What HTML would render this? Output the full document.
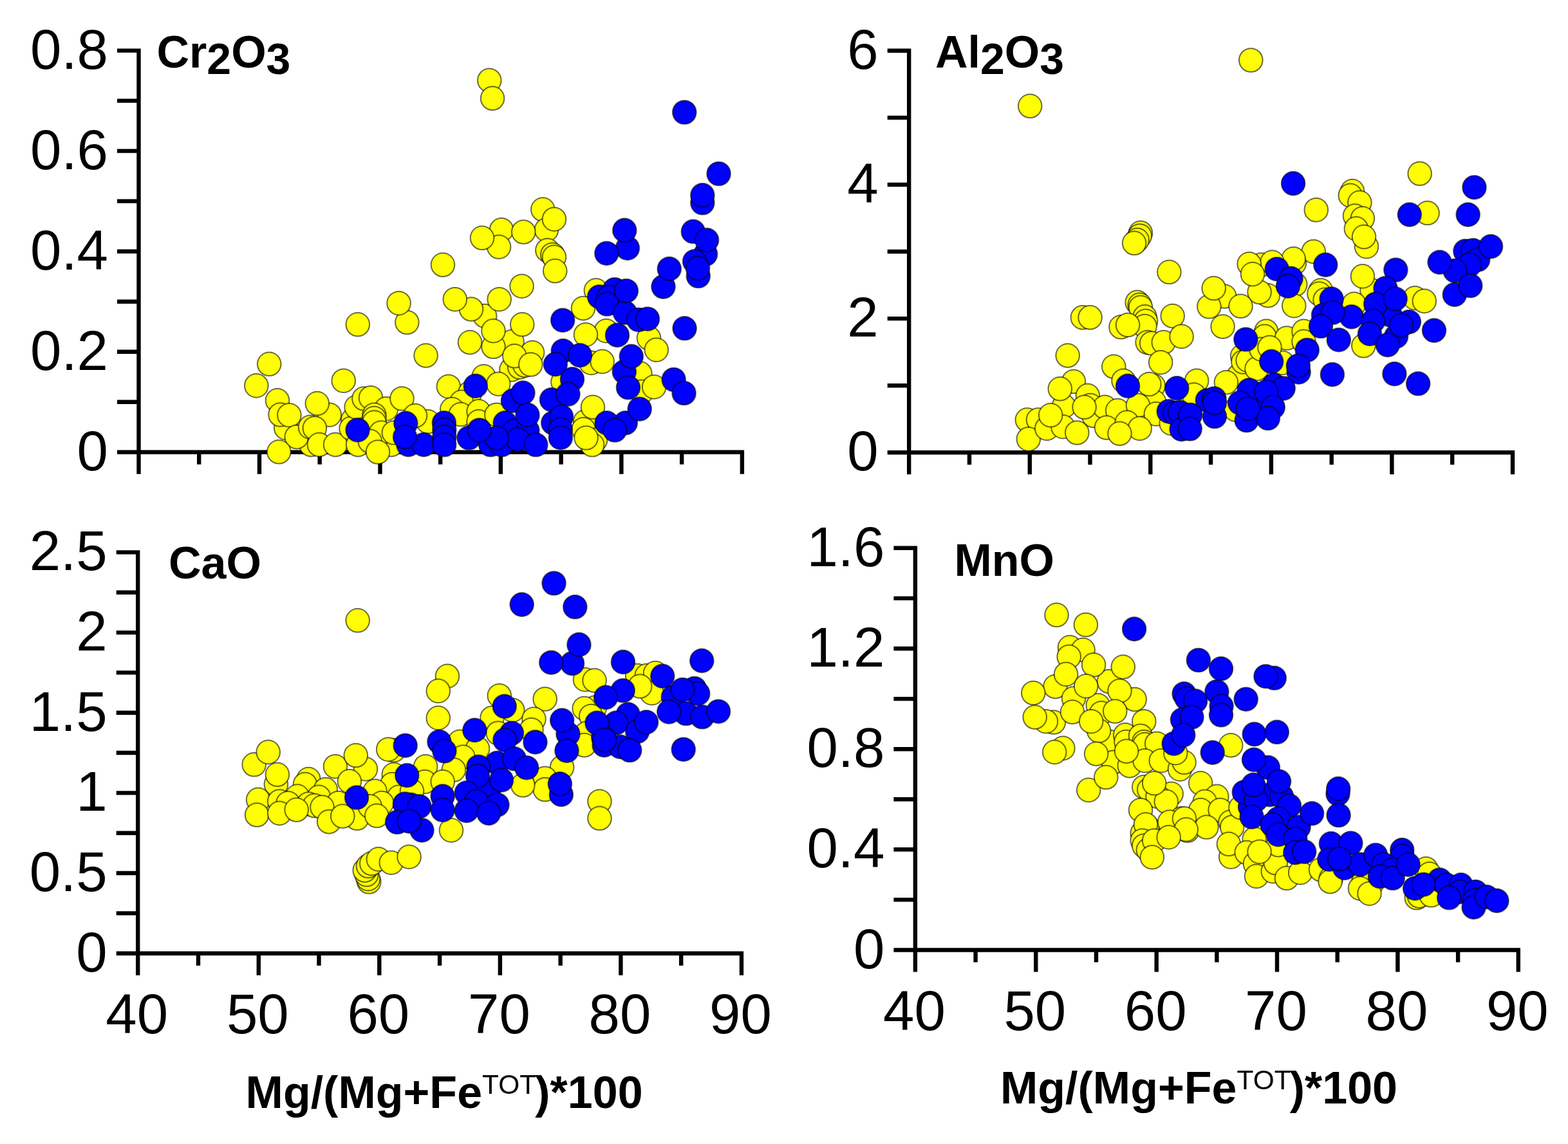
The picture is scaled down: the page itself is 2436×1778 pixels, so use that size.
<!DOCTYPE html>
<html lang="en"><head><meta charset="utf-8"><title>Mg# variation diagrams</title>
<style>html,body{margin:0;padding:0;background:#fff}body{width:2436px;height:1778px;overflow:hidden}svg{display:block}text{font-family:"Liberation Sans",Arial,Helvetica,sans-serif;fill:#000}.t{font-size:87px}.b{font-weight:bold;font-size:70px}.ax{stroke:#000;stroke-width:6.4;fill:none;stroke-linecap:butt}.y{fill:#ff0;stroke:#000;stroke-width:2.0;stroke-opacity:.58}.u{fill:#00f;stroke:#000;stroke-width:2.0;stroke-opacity:.58}</style></head><body>
<svg xmlns="http://www.w3.org/2000/svg" width="2436" height="1778" viewBox="0 0 2436 1778">
<rect width="2436" height="1778" fill="#fff"/>
<g id="panel-A">
<path class="ax" d="M215.5 75.4V736.7M182.0 702.7H1156.1M182.0 624.7H215.5M182.0 546.7H215.5M182.0 468.7H215.5M182.0 390.7H215.5M182.0 312.6H215.5M182.0 234.6H215.5M182.0 156.6H215.5M182.0 78.6H215.5M309.2 702.7V721.7M403.0 702.7V736.7M496.7 702.7V721.7M590.5 702.7V736.7M684.2 702.7V721.7M777.9 702.7V736.7M871.7 702.7V721.7M965.4 702.7V736.7M1059.2 702.7V721.7M1152.9 702.7V736.7"/>
<text class="t" text-anchor="end" x="168.0" y="730.7">0</text>
<text class="t" text-anchor="end" x="168.0" y="574.7">0.2</text>
<text class="t" text-anchor="end" x="168.0" y="418.7">0.4</text>
<text class="t" text-anchor="end" x="168.0" y="262.6">0.6</text>
<text class="t" text-anchor="end" x="168.0" y="106.6">0.8</text>
<text class="b" x="243.5" y="105.0">Cr<tspan dy="10" style="font-size:68px">2</tspan><tspan dy="-10">O</tspan><tspan dy="10" style="font-size:68px">3</tspan></text>
<circle class="y" cx="760.3" cy="124.9" r="18.3"/><circle class="y" cx="765.1" cy="152.8" r="18.3"/><circle class="y" cx="843.3" cy="325.6" r="18.3"/><circle class="y" cx="688.0" cy="411.6" r="18.3"/><circle class="y" cx="779.1" cy="357.2" r="18.3"/><circle class="y" cx="775.1" cy="383.7" r="18.3"/><circle class="y" cx="749.0" cy="369.8" r="18.3"/><circle class="y" cx="632.4" cy="501.0" r="18.3"/><circle class="y" cx="619.6" cy="471.2" r="18.3"/><circle class="y" cx="555.8" cy="504.3" r="18.3"/><circle class="y" cx="753.2" cy="491.1" r="18.3"/><circle class="y" cx="732.0" cy="480.5" r="18.3"/><circle class="y" cx="706.8" cy="465.2" r="18.3"/><circle class="y" cx="775.7" cy="465.2" r="18.3"/><circle class="y" cx="795.6" cy="530.8" r="18.3"/><circle class="y" cx="766.5" cy="538.8" r="18.3"/><circle class="y" cx="766.5" cy="514.2" r="18.3"/><circle class="y" cx="730.0" cy="532.1" r="18.3"/><circle class="y" cx="849.0" cy="357.2" r="18.3"/><circle class="y" cx="813.3" cy="360.5" r="18.3"/><circle class="y" cx="861.0" cy="340.7" r="18.3"/><circle class="y" cx="850.4" cy="389.0" r="18.3"/><circle class="y" cx="858.3" cy="395.7" r="18.3"/><circle class="y" cx="861.0" cy="399.6" r="18.3"/><circle class="y" cx="862.3" cy="421.1" r="18.3"/><circle class="y" cx="810.6" cy="444.7" r="18.3"/><circle class="y" cx="811.3" cy="504.3" r="18.3"/><circle class="y" cx="925.9" cy="451.3" r="18.3"/><circle class="y" cx="906.0" cy="479.1" r="18.3"/><circle class="y" cx="941.8" cy="514.2" r="18.3"/><circle class="y" cx="910.0" cy="520.2" r="18.3"/><circle class="y" cx="1008.0" cy="525.5" r="18.3"/><circle class="y" cx="444.3" cy="665.2" r="18.3"/><circle class="y" cx="483.4" cy="691.1" r="18.3"/><circle class="y" cx="548.3" cy="652.6" r="18.3"/><circle class="y" cx="607.9" cy="691.1" r="18.3"/><circle class="y" cx="398.3" cy="599.4" r="18.3"/><circle class="y" cx="418.2" cy="565.8" r="18.3"/><circle class="y" cx="533.7" cy="591.7" r="18.3"/><circle class="y" cx="661.6" cy="552.6" r="18.3"/><circle class="y" cx="431.0" cy="622.4" r="18.3"/><circle class="y" cx="435.5" cy="644.5" r="18.3"/><circle class="y" cx="449.4" cy="645.2" r="18.3"/><circle class="y" cx="511.8" cy="644.7" r="18.3"/><circle class="y" cx="492.8" cy="627.1" r="18.3"/><circle class="y" cx="460.8" cy="679.1" r="18.3"/><circle class="y" cx="482.0" cy="663.9" r="18.3"/><circle class="y" cx="488.9" cy="665.5" r="18.3"/><circle class="y" cx="495.9" cy="691.1" r="18.3"/><circle class="y" cx="521.1" cy="691.1" r="18.3"/><circle class="y" cx="433.3" cy="702.3" r="18.3"/><circle class="y" cx="545.6" cy="665.9" r="18.3"/><circle class="y" cx="553.6" cy="632.8" r="18.3"/><circle class="y" cx="565.5" cy="619.5" r="18.3"/><circle class="y" cx="576.1" cy="618.2" r="18.3"/><circle class="y" cx="600.0" cy="635.4" r="18.3"/><circle class="y" cx="624.5" cy="619.5" r="18.3"/><circle class="y" cx="581.4" cy="644.7" r="18.3"/><circle class="y" cx="581.4" cy="650.0" r="18.3"/><circle class="y" cx="581.4" cy="656.6" r="18.3"/><circle class="y" cx="592.0" cy="672.5" r="18.3"/><circle class="y" cx="611.9" cy="672.5" r="18.3"/><circle class="y" cx="556.2" cy="691.1" r="18.3"/><circle class="y" cx="574.8" cy="685.8" r="18.3"/><circle class="y" cx="587.0" cy="702.5" r="18.3"/><circle class="y" cx="664.9" cy="655.3" r="18.3"/><circle class="y" cx="645.0" cy="646.0" r="18.3"/><circle class="y" cx="794.5" cy="574.5" r="18.3"/><circle class="y" cx="696.8" cy="600.7" r="18.3"/><circle class="y" cx="751.6" cy="585.1" r="18.3"/><circle class="y" cx="730.4" cy="610.2" r="18.3"/><circle class="y" cx="774.3" cy="596.7" r="18.3"/><circle class="y" cx="807.2" cy="570.5" r="18.3"/><circle class="y" cx="815.2" cy="567.8" r="18.3"/><circle class="y" cx="827.1" cy="548.0" r="18.3"/><circle class="y" cx="799.3" cy="553.3" r="18.3"/><circle class="y" cx="824.4" cy="566.5" r="18.3"/><circle class="y" cx="918.5" cy="563.9" r="18.3"/><circle class="y" cx="935.7" cy="561.9" r="18.3"/><circle class="y" cx="874.5" cy="593.7" r="18.3"/><circle class="y" cx="717.1" cy="624.8" r="18.3"/><circle class="y" cx="702.3" cy="636.1" r="18.3"/><circle class="y" cx="715.8" cy="644.0" r="18.3"/><circle class="y" cx="743.6" cy="639.4" r="18.3"/><circle class="y" cx="743.6" cy="655.3" r="18.3"/><circle class="y" cx="771.4" cy="644.7" r="18.3"/><circle class="y" cx="909.2" cy="655.3" r="18.3"/><circle class="y" cx="921.0" cy="632.8" r="18.3"/><circle class="y" cx="906.6" cy="667.2" r="18.3"/><circle class="y" cx="925.1" cy="683.8" r="18.3"/><circle class="y" cx="920.1" cy="691.3" r="18.3"/><circle class="y" cx="910.6" cy="680.5" r="18.3"/><circle class="y" cx="1019.8" cy="543.7" r="18.3"/><circle class="y" cx="994.3" cy="580.4" r="18.3"/><circle class="y" cx="997.0" cy="608.9" r="18.3"/><circle class="y" cx="1016.2" cy="601.4" r="18.3"/><circle class="u" cx="1063.3" cy="174.5" r="18.3"/><circle class="u" cx="1116.6" cy="270.0" r="18.3"/><circle class="u" cx="1091.4" cy="315.3" r="18.3"/><circle class="u" cx="1091.4" cy="303.4" r="18.3"/><circle class="u" cx="974.9" cy="385.7" r="18.3"/><circle class="u" cx="970.3" cy="357.9" r="18.3"/><circle class="u" cx="942.4" cy="393.7" r="18.3"/><circle class="u" cx="955.0" cy="450.0" r="18.3"/><circle class="u" cx="931.2" cy="461.2" r="18.3"/><circle class="u" cx="945.8" cy="461.9" r="18.3"/><circle class="u" cx="943.1" cy="472.5" r="18.3"/><circle class="u" cx="970.9" cy="485.8" r="18.3"/><circle class="u" cx="972.9" cy="452.0" r="18.3"/><circle class="u" cx="992.1" cy="497.0" r="18.3"/><circle class="u" cx="874.2" cy="497.7" r="18.3"/><circle class="u" cx="959.0" cy="520.9" r="18.3"/><circle class="u" cx="1076.9" cy="359.9" r="18.3"/><circle class="u" cx="1096.1" cy="395.0" r="18.3"/><circle class="u" cx="1098.1" cy="373.1" r="18.3"/><circle class="u" cx="1079.1" cy="406.3" r="18.3"/><circle class="u" cx="1084.8" cy="429.0" r="18.3"/><circle class="u" cx="1084.1" cy="416.9" r="18.3"/><circle class="u" cx="1030.5" cy="445.6" r="18.3"/><circle class="u" cx="1039.8" cy="417.8" r="18.3"/><circle class="u" cx="1006.0" cy="495.7" r="18.3"/><circle class="u" cx="1063.6" cy="510.3" r="18.3"/><circle class="u" cx="555.6" cy="668.3" r="18.3"/><circle class="u" cx="630.4" cy="657.9" r="18.3"/><circle class="u" cx="634.4" cy="691.1" r="18.3"/><circle class="u" cx="658.3" cy="691.1" r="18.3"/><circle class="u" cx="629.1" cy="679.1" r="18.3"/><circle class="u" cx="874.8" cy="545.3" r="18.3"/><circle class="u" cx="901.0" cy="552.2" r="18.3"/><circle class="u" cx="862.9" cy="566.1" r="18.3"/><circle class="u" cx="738.8" cy="599.9" r="18.3"/><circle class="u" cx="796.9" cy="622.8" r="18.3"/><circle class="u" cx="812.5" cy="610.6" r="18.3"/><circle class="u" cx="889.0" cy="589.4" r="18.3"/><circle class="u" cx="857.0" cy="621.2" r="18.3"/><circle class="u" cx="882.5" cy="612.6" r="18.3"/><circle class="u" cx="784.7" cy="657.4" r="18.3"/><circle class="u" cx="799.3" cy="669.9" r="18.3"/><circle class="u" cx="819.4" cy="669.2" r="18.3"/><circle class="u" cx="819.5" cy="644.9" r="18.3"/><circle class="u" cx="859.3" cy="657.3" r="18.3"/><circle class="u" cx="872.1" cy="647.7" r="18.3"/><circle class="u" cx="870.8" cy="667.2" r="18.3"/><circle class="u" cx="870.9" cy="680.2" r="18.3"/><circle class="u" cx="689.9" cy="657.3" r="18.3"/><circle class="u" cx="690.3" cy="667.9" r="18.3"/><circle class="u" cx="690.3" cy="679.1" r="18.3"/><circle class="u" cx="690.2" cy="691.3" r="18.3"/><circle class="u" cx="728.5" cy="680.5" r="18.3"/><circle class="u" cx="762.2" cy="691.3" r="18.3"/><circle class="u" cx="779.6" cy="691.3" r="18.3"/><circle class="u" cx="804.6" cy="683.1" r="18.3"/><circle class="u" cx="771.7" cy="680.7" r="18.3"/><circle class="u" cx="744.8" cy="668.5" r="18.3"/><circle class="u" cx="832.4" cy="691.3" r="18.3"/><circle class="u" cx="969.8" cy="577.8" r="18.3"/><circle class="u" cx="980.8" cy="553.9" r="18.3"/><circle class="u" cx="976.0" cy="602.3" r="18.3"/><circle class="u" cx="1046.7" cy="590.0" r="18.3"/><circle class="u" cx="1062.6" cy="611.0" r="18.3"/><circle class="u" cx="971.8" cy="657.3" r="18.3"/><circle class="u" cx="942.7" cy="657.3" r="18.3"/><circle class="u" cx="955.2" cy="668.5" r="18.3"/><circle class="u" cx="993.7" cy="635.7" r="18.3"/>
</g>
<g id="panel-B">
<path class="ax" d="M1412.2 75.6V737.3M1378.7 703.3H2353.2M1378.7 599.2H1412.2M1378.7 495.1H1412.2M1378.7 391.0H1412.2M1378.7 287.0H1412.2M1378.7 182.9H1412.2M1378.7 78.8H1412.2M1506.0 703.3V722.3M1599.8 703.3V737.3M1693.5 703.3V722.3M1787.3 703.3V737.3M1881.1 703.3V722.3M1974.9 703.3V737.3M2068.7 703.3V722.3M2162.4 703.3V737.3M2256.2 703.3V722.3M2350.0 703.3V737.3"/>
<text class="t" text-anchor="end" x="1364.7" y="731.3">0</text>
<text class="t" text-anchor="end" x="1364.7" y="523.1">2</text>
<text class="t" text-anchor="end" x="1364.7" y="315.0">4</text>
<text class="t" text-anchor="end" x="1364.7" y="106.8">6</text>
<text class="b" x="1453.0" y="105.0">Al<tspan dy="10" style="font-size:68px">2</tspan><tspan dy="-10">O</tspan><tspan dy="10" style="font-size:68px">3</tspan></text>
<circle class="y" cx="1600.2" cy="164.8" r="18.3"/><circle class="y" cx="1943.3" cy="93.5" r="18.3"/><circle class="y" cx="2044.8" cy="326.2" r="18.3"/><circle class="y" cx="2205.7" cy="269.8" r="18.3"/><circle class="y" cx="2217.6" cy="331.0" r="18.3"/><circle class="y" cx="2101.0" cy="297.1" r="18.3"/><circle class="y" cx="2097.8" cy="303.7" r="18.3"/><circle class="y" cx="2112.4" cy="314.8" r="18.3"/><circle class="y" cx="2105.0" cy="335.5" r="18.3"/><circle class="y" cx="2116.9" cy="339.5" r="18.3"/><circle class="y" cx="2106.9" cy="355.4" r="18.3"/><circle class="y" cx="2123.0" cy="383.2" r="18.3"/><circle class="y" cx="2119.0" cy="368.1" r="18.3"/><circle class="y" cx="1772.0" cy="361.9" r="18.3"/><circle class="y" cx="1770.7" cy="366.5" r="18.3"/><circle class="y" cx="1766.7" cy="373.1" r="18.3"/><circle class="y" cx="1762.1" cy="377.8" r="18.3"/><circle class="y" cx="1816.4" cy="422.8" r="18.3"/><circle class="y" cx="1681.9" cy="493.4" r="18.3"/><circle class="y" cx="1693.6" cy="493.4" r="18.3"/><circle class="y" cx="1766.7" cy="469.9" r="18.3"/><circle class="y" cx="1770.7" cy="473.8" r="18.3"/><circle class="y" cx="1772.0" cy="477.8" r="18.3"/><circle class="y" cx="1778.6" cy="492.4" r="18.3"/><circle class="y" cx="1780.0" cy="499.0" r="18.3"/><circle class="y" cx="1778.6" cy="507.0" r="18.3"/><circle class="y" cx="1741.5" cy="508.3" r="18.3"/><circle class="y" cx="1752.1" cy="505.0" r="18.3"/><circle class="y" cx="1821.7" cy="491.1" r="18.3"/><circle class="y" cx="1782.6" cy="532.1" r="18.3"/><circle class="y" cx="1789.2" cy="533.5" r="18.3"/><circle class="y" cx="1807.8" cy="532.1" r="18.3"/><circle class="y" cx="1835.6" cy="522.9" r="18.3"/><circle class="y" cx="2012.3" cy="442.0" r="18.3"/><circle class="y" cx="1959.3" cy="411.6" r="18.3"/><circle class="y" cx="2040.7" cy="391.0" r="18.3"/><circle class="y" cx="2010.9" cy="408.9" r="18.3"/><circle class="y" cx="2009.6" cy="402.3" r="18.3"/><circle class="y" cx="1976.5" cy="407.6" r="18.3"/><circle class="y" cx="1940.7" cy="410.2" r="18.3"/><circle class="y" cx="1969.9" cy="459.3" r="18.3"/><circle class="y" cx="1956.6" cy="454.0" r="18.3"/><circle class="y" cx="1946.0" cy="426.1" r="18.3"/><circle class="y" cx="1902.3" cy="460.6" r="18.3"/><circle class="y" cx="1878.4" cy="476.5" r="18.3"/><circle class="y" cx="1885.7" cy="448.0" r="18.3"/><circle class="y" cx="1927.5" cy="475.8" r="18.3"/><circle class="y" cx="2010.3" cy="475.2" r="18.3"/><circle class="y" cx="1899.6" cy="507.6" r="18.3"/><circle class="y" cx="2052.0" cy="451.3" r="18.3"/><circle class="y" cx="2049.4" cy="456.6" r="18.3"/><circle class="y" cx="2058.6" cy="465.9" r="18.3"/><circle class="y" cx="2131.5" cy="451.3" r="18.3"/><circle class="y" cx="2116.9" cy="429.4" r="18.3"/><circle class="y" cx="2103.7" cy="472.5" r="18.3"/><circle class="y" cx="1967.2" cy="514.9" r="18.3"/><circle class="y" cx="1964.6" cy="522.9" r="18.3"/><circle class="y" cx="1999.0" cy="525.5" r="18.3"/><circle class="y" cx="2025.5" cy="514.9" r="18.3"/><circle class="y" cx="2025.5" cy="530.8" r="18.3"/><circle class="y" cx="2198.2" cy="463.2" r="18.3"/><circle class="y" cx="2212.8" cy="467.9" r="18.3"/><circle class="y" cx="1652.8" cy="631.4" r="18.3"/><circle class="y" cx="1791.9" cy="599.6" r="18.3"/><circle class="y" cx="1793.2" cy="624.8" r="18.3"/><circle class="y" cx="1658.7" cy="552.6" r="18.3"/><circle class="y" cx="1730.3" cy="569.8" r="18.3"/><circle class="y" cx="1803.2" cy="563.2" r="18.3"/><circle class="y" cx="1668.0" cy="593.0" r="18.3"/><circle class="y" cx="1646.8" cy="604.3" r="18.3"/><circle class="y" cx="1689.9" cy="614.9" r="18.3"/><circle class="y" cx="1745.5" cy="591.7" r="18.3"/><circle class="y" cx="1785.3" cy="597.0" r="18.3"/><circle class="y" cx="1693.8" cy="630.1" r="18.3"/><circle class="y" cx="1595.8" cy="652.6" r="18.3"/><circle class="y" cx="1613.0" cy="652.6" r="18.3"/><circle class="y" cx="1597.8" cy="682.4" r="18.3"/><circle class="y" cx="1626.3" cy="665.9" r="18.3"/><circle class="y" cx="1651.4" cy="663.2" r="18.3"/><circle class="y" cx="1673.3" cy="672.5" r="18.3"/><circle class="y" cx="1699.1" cy="646.0" r="18.3"/><circle class="y" cx="1716.4" cy="632.8" r="18.3"/><circle class="y" cx="1736.2" cy="638.1" r="18.3"/><circle class="y" cx="1768.0" cy="630.1" r="18.3"/><circle class="y" cx="1795.9" cy="643.4" r="18.3"/><circle class="y" cx="1719.0" cy="664.6" r="18.3"/><circle class="y" cx="1750.8" cy="656.6" r="18.3"/><circle class="y" cx="1770.7" cy="665.9" r="18.3"/><circle class="y" cx="1739.5" cy="673.8" r="18.3"/><circle class="y" cx="1632.2" cy="645.3" r="18.3"/><circle class="y" cx="1684.6" cy="632.8" r="18.3"/><circle class="y" cx="1819.7" cy="657.9" r="18.3"/><circle class="y" cx="1851.5" cy="619.5" r="18.3"/><circle class="y" cx="1924.8" cy="583.7" r="18.3"/><circle class="y" cx="1859.2" cy="591.7" r="18.3"/><circle class="y" cx="1854.6" cy="613.5" r="18.3"/><circle class="y" cx="1904.9" cy="594.3" r="18.3"/><circle class="y" cx="1930.1" cy="553.3" r="18.3"/><circle class="y" cx="1931.4" cy="562.5" r="18.3"/><circle class="y" cx="1938.7" cy="559.9" r="18.3"/><circle class="y" cx="1952.6" cy="573.1" r="18.3"/><circle class="y" cx="1992.4" cy="563.9" r="18.3"/><circle class="y" cx="1959.3" cy="542.7" r="18.3"/><circle class="y" cx="1972.5" cy="540.0" r="18.3"/><circle class="y" cx="1919.5" cy="636.7" r="18.3"/><circle class="y" cx="2118.3" cy="537.3" r="18.3"/><circle class="u" cx="2009.1" cy="285.1" r="18.3"/><circle class="u" cx="2290.5" cy="291.2" r="18.3"/><circle class="u" cx="2280.7" cy="333.6" r="18.3"/><circle class="u" cx="2189.8" cy="333.6" r="18.3"/><circle class="u" cx="1983.8" cy="418.2" r="18.3"/><circle class="u" cx="2005.6" cy="432.8" r="18.3"/><circle class="u" cx="2001.0" cy="444.7" r="18.3"/><circle class="u" cx="2059.3" cy="411.6" r="18.3"/><circle class="u" cx="2068.6" cy="464.6" r="18.3"/><circle class="u" cx="2056.0" cy="489.7" r="18.3"/><circle class="u" cx="2099.7" cy="492.4" r="18.3"/><circle class="u" cx="2070.6" cy="485.8" r="18.3"/><circle class="u" cx="2052.0" cy="507.0" r="18.3"/><circle class="u" cx="2079.8" cy="528.2" r="18.3"/><circle class="u" cx="1935.4" cy="527.5" r="18.3"/><circle class="u" cx="2159.8" cy="489.7" r="18.3"/><circle class="u" cx="2168.4" cy="419.5" r="18.3"/><circle class="u" cx="2152.5" cy="448.0" r="18.3"/><circle class="u" cx="2137.2" cy="472.5" r="18.3"/><circle class="u" cx="2167.7" cy="464.6" r="18.3"/><circle class="u" cx="2133.3" cy="499.0" r="18.3"/><circle class="u" cx="2128.0" cy="518.9" r="18.3"/><circle class="u" cx="2169.0" cy="522.9" r="18.3"/><circle class="u" cx="2155.8" cy="536.1" r="18.3"/><circle class="u" cx="2188.9" cy="500.3" r="18.3"/><circle class="u" cx="2177.0" cy="505.6" r="18.3"/><circle class="u" cx="2228.0" cy="513.6" r="18.3"/><circle class="u" cx="2276.4" cy="390.4" r="18.3"/><circle class="u" cx="2288.3" cy="389.0" r="18.3"/><circle class="u" cx="2296.2" cy="403.6" r="18.3"/><circle class="u" cx="2283.0" cy="411.6" r="18.3"/><circle class="u" cx="2260.5" cy="420.8" r="18.3"/><circle class="u" cx="2236.6" cy="407.6" r="18.3"/><circle class="u" cx="2316.1" cy="383.1" r="18.3"/><circle class="u" cx="2259.8" cy="457.9" r="18.3"/><circle class="u" cx="2284.3" cy="444.0" r="18.3"/><circle class="u" cx="1752.1" cy="599.9" r="18.3"/><circle class="u" cx="1828.3" cy="603.3" r="18.3"/><circle class="u" cx="1815.7" cy="639.4" r="18.3"/><circle class="u" cx="1825.0" cy="642.0" r="18.3"/><circle class="u" cx="1833.0" cy="640.7" r="18.3"/><circle class="u" cx="1835.6" cy="667.2" r="18.3"/><circle class="u" cx="1875.8" cy="622.2" r="18.3"/><circle class="u" cx="1956.6" cy="622.2" r="18.3"/><circle class="u" cx="2030.8" cy="544.0" r="18.3"/><circle class="u" cx="1975.2" cy="561.9" r="18.3"/><circle class="u" cx="2017.6" cy="578.4" r="18.3"/><circle class="u" cx="2016.9" cy="568.5" r="18.3"/><circle class="u" cx="2069.9" cy="582.1" r="18.3"/><circle class="u" cx="1979.1" cy="598.3" r="18.3"/><circle class="u" cx="1993.7" cy="603.6" r="18.3"/><circle class="u" cx="1940.7" cy="606.3" r="18.3"/><circle class="u" cx="1967.2" cy="608.9" r="18.3"/><circle class="u" cx="1926.1" cy="626.1" r="18.3"/><circle class="u" cx="1977.8" cy="632.8" r="18.3"/><circle class="u" cx="1936.7" cy="653.3" r="18.3"/><circle class="u" cx="1969.9" cy="650.0" r="18.3"/><circle class="u" cx="1938.7" cy="635.4" r="18.3"/><circle class="u" cx="1886.4" cy="619.5" r="18.3"/><circle class="u" cx="1887.0" cy="647.3" r="18.3"/><circle class="u" cx="1887.0" cy="626.1" r="18.3"/><circle class="u" cx="1849.3" cy="644.7" r="18.3"/><circle class="u" cx="1848.7" cy="666.5" r="18.3"/><circle class="u" cx="2166.4" cy="581.1" r="18.3"/><circle class="u" cx="2203.2" cy="596.3" r="18.3"/>
</g>
<g id="panel-C">
<path class="ax" d="M214.2 855.2V1515.7M180.7 1481.7H1155.2M180.7 1419.4H214.2M180.7 1357.0H214.2M180.7 1294.7H214.2M180.7 1232.4H214.2M180.7 1170.0H214.2M180.7 1107.7H214.2M180.7 1045.4H214.2M180.7 983.1H214.2M180.7 920.7H214.2M180.7 858.4H214.2M308.0 1481.7V1500.7M401.8 1481.7V1515.7M495.5 1481.7V1500.7M589.3 1481.7V1515.7M683.1 1481.7V1500.7M776.9 1481.7V1515.7M870.7 1481.7V1500.7M964.4 1481.7V1515.7M1058.2 1481.7V1500.7M1152.0 1481.7V1515.7"/>
<text class="t" text-anchor="end" x="166.7" y="1509.7">0</text>
<text class="t" text-anchor="end" x="166.7" y="1385.0">0.5</text>
<text class="t" text-anchor="end" x="166.7" y="1260.4">1</text>
<text class="t" text-anchor="end" x="166.7" y="1135.7">1.5</text>
<text class="t" text-anchor="end" x="166.7" y="1011.1">2</text>
<text class="t" text-anchor="end" x="166.7" y="886.4">2.5</text>
<text class="t" text-anchor="middle" x="212.7" y="1605.7">40</text>
<text class="t" text-anchor="middle" x="400.3" y="1605.7">50</text>
<text class="t" text-anchor="middle" x="587.8" y="1605.7">60</text>
<text class="t" text-anchor="middle" x="775.4" y="1605.7">70</text>
<text class="t" text-anchor="middle" x="962.9" y="1605.7">80</text>
<text class="t" text-anchor="middle" x="1150.5" y="1605.7">90</text>
<text class="b" x="381.6" y="1722.4" style="font-size:70px">Mg/(Mg+Fe<tspan dy="-22" style="font-size:42.5px;font-weight:normal">TOT</tspan><tspan dy="22" dx="-2">)*100</tspan></text>
<text class="b" x="262.0" y="899.0">CaO</text>
<circle class="y" cx="555.7" cy="964.3" r="18.3"/><circle class="y" cx="695.0" cy="1050.9" r="18.3"/><circle class="y" cx="909.0" cy="1056.2" r="18.3"/><circle class="y" cx="923.6" cy="1057.6" r="18.3"/><circle class="y" cx="990.2" cy="1050.1" r="18.3"/><circle class="y" cx="1004.8" cy="1050.1" r="18.3"/><circle class="y" cx="1018.1" cy="1046.1" r="18.3"/><circle class="y" cx="1012.8" cy="1077.2" r="18.3"/><circle class="y" cx="994.2" cy="1066.6" r="18.3"/><circle class="y" cx="924.0" cy="1099.8" r="18.3"/><circle class="y" cx="394.7" cy="1188.3" r="18.3"/><circle class="y" cx="416.7" cy="1168.9" r="18.3"/><circle class="y" cx="428.9" cy="1219.0" r="18.3"/><circle class="y" cx="430.9" cy="1203.8" r="18.3"/><circle class="y" cx="521.0" cy="1191.2" r="18.3"/><circle class="y" cx="568.0" cy="1195.2" r="18.3"/><circle class="y" cx="552.8" cy="1174.0" r="18.3"/><circle class="y" cx="542.9" cy="1214.4" r="18.3"/><circle class="y" cx="611.8" cy="1166.0" r="18.3"/><circle class="y" cx="603.2" cy="1164.7" r="18.3"/><circle class="y" cx="611.8" cy="1203.8" r="18.3"/><circle class="y" cx="609.1" cy="1219.0" r="18.3"/><circle class="y" cx="619.7" cy="1238.9" r="18.3"/><circle class="y" cx="479.3" cy="1211.1" r="18.3"/><circle class="y" cx="474.0" cy="1219.0" r="18.3"/><circle class="y" cx="505.8" cy="1227.0" r="18.3"/><circle class="y" cx="495.2" cy="1238.9" r="18.3"/><circle class="y" cx="462.0" cy="1237.6" r="18.3"/><circle class="y" cx="401.1" cy="1242.9" r="18.3"/><circle class="y" cx="434.2" cy="1245.5" r="18.3"/><circle class="y" cx="447.5" cy="1248.2" r="18.3"/><circle class="y" cx="479.3" cy="1249.5" r="18.3"/><circle class="y" cx="488.5" cy="1252.1" r="18.3"/><circle class="y" cx="582.6" cy="1229.6" r="18.3"/><circle class="y" cx="525.6" cy="1248.0" r="18.3"/><circle class="y" cx="593.2" cy="1248.0" r="18.3"/><circle class="y" cx="399.1" cy="1266.5" r="18.3"/><circle class="y" cx="434.2" cy="1263.9" r="18.3"/><circle class="y" cx="460.7" cy="1258.6" r="18.3"/><circle class="y" cx="500.5" cy="1254.6" r="18.3"/><circle class="y" cx="511.1" cy="1277.1" r="18.3"/><circle class="y" cx="554.8" cy="1271.8" r="18.3"/><circle class="y" cx="574.7" cy="1253.3" r="18.3"/><circle class="y" cx="585.3" cy="1267.8" r="18.3"/><circle class="y" cx="532.3" cy="1268.5" r="18.3"/><circle class="y" cx="573.3" cy="1370.5" r="18.3"/><circle class="y" cx="572.0" cy="1365.9" r="18.3"/><circle class="y" cx="569.4" cy="1359.3" r="18.3"/><circle class="y" cx="566.7" cy="1352.6" r="18.3"/><circle class="y" cx="572.0" cy="1346.0" r="18.3"/><circle class="y" cx="577.3" cy="1342.0" r="18.3"/><circle class="y" cx="587.9" cy="1335.4" r="18.3"/><circle class="y" cx="607.8" cy="1340.7" r="18.3"/><circle class="y" cx="635.6" cy="1331.7" r="18.3"/><circle class="y" cx="680.8" cy="1073.9" r="18.3"/><circle class="y" cx="680.8" cy="1115.9" r="18.3"/><circle class="y" cx="775.8" cy="1081.2" r="18.3"/><circle class="y" cx="846.7" cy="1086.5" r="18.3"/><circle class="y" cx="764.6" cy="1115.7" r="18.3"/><circle class="y" cx="796.4" cy="1103.7" r="18.3"/><circle class="y" cx="829.5" cy="1117.6" r="18.3"/><circle class="y" cx="773.8" cy="1139.5" r="18.3"/><circle class="y" cx="825.5" cy="1134.2" r="18.3"/><circle class="y" cx="714.2" cy="1152.8" r="18.3"/><circle class="y" cx="742.0" cy="1163.4" r="18.3"/><circle class="y" cx="719.5" cy="1176.6" r="18.3"/><circle class="y" cx="661.2" cy="1191.2" r="18.3"/><circle class="y" cx="704.9" cy="1196.5" r="18.3"/><circle class="y" cx="659.9" cy="1215.0" r="18.3"/><circle class="y" cx="687.7" cy="1215.0" r="18.3"/><circle class="y" cx="640.0" cy="1229.6" r="18.3"/><circle class="y" cx="907.7" cy="1101.1" r="18.3"/><circle class="y" cx="918.3" cy="1113.0" r="18.3"/><circle class="y" cx="911.6" cy="1139.5" r="18.3"/><circle class="y" cx="907.7" cy="1158.1" r="18.3"/><circle class="y" cx="873.2" cy="1192.5" r="18.3"/><circle class="y" cx="846.7" cy="1209.7" r="18.3"/><circle class="y" cx="846.7" cy="1227.0" r="18.3"/><circle class="y" cx="812.3" cy="1220.3" r="18.3"/><circle class="y" cx="931.5" cy="1245.5" r="18.3"/><circle class="y" cx="701.0" cy="1290.4" r="18.3"/><circle class="y" cx="931.5" cy="1271.8" r="18.3"/><circle class="u" cx="860.6" cy="906.5" r="18.3"/><circle class="u" cx="810.7" cy="939.6" r="18.3"/><circle class="u" cx="893.4" cy="943.3" r="18.3"/><circle class="u" cx="889.1" cy="1031.1" r="18.3"/><circle class="u" cx="856.3" cy="1029.7" r="18.3"/><circle class="u" cx="899.5" cy="1001.9" r="18.3"/><circle class="u" cx="1045.9" cy="1083.2" r="18.3"/><circle class="u" cx="968.0" cy="1028.9" r="18.3"/><circle class="u" cx="1090.3" cy="1026.9" r="18.3"/><circle class="u" cx="1029.3" cy="1050.8" r="18.3"/><circle class="u" cx="1079.0" cy="1070.0" r="18.3"/><circle class="u" cx="1084.3" cy="1077.9" r="18.3"/><circle class="u" cx="1060.5" cy="1072.0" r="18.3"/><circle class="u" cx="967.7" cy="1073.3" r="18.3"/><circle class="u" cx="941.2" cy="1083.9" r="18.3"/><circle class="u" cx="1065.8" cy="1109.0" r="18.3"/><circle class="u" cx="1039.3" cy="1106.4" r="18.3"/><circle class="u" cx="1090.9" cy="1114.3" r="18.3"/><circle class="u" cx="1116.1" cy="1105.7" r="18.3"/><circle class="u" cx="975.7" cy="1110.4" r="18.3"/><circle class="u" cx="957.1" cy="1123.6" r="18.3"/><circle class="u" cx="990.2" cy="1136.9" r="18.3"/><circle class="u" cx="1004.1" cy="1122.3" r="18.3"/><circle class="u" cx="937.2" cy="1146.1" r="18.3"/><circle class="u" cx="938.6" cy="1158.1" r="18.3"/><circle class="u" cx="963.7" cy="1160.7" r="18.3"/><circle class="u" cx="978.3" cy="1166.0" r="18.3"/><circle class="u" cx="1061.8" cy="1164.7" r="18.3"/><circle class="u" cx="629.7" cy="1158.7" r="18.3"/><circle class="u" cx="632.3" cy="1205.1" r="18.3"/><circle class="u" cx="554.1" cy="1239.5" r="18.3"/><circle class="u" cx="638.3" cy="1250.8" r="18.3"/><circle class="u" cx="629.0" cy="1249.5" r="18.3"/><circle class="u" cx="617.1" cy="1277.8" r="18.3"/><circle class="u" cx="655.5" cy="1290.4" r="18.3"/><circle class="u" cx="651.5" cy="1253.3" r="18.3"/><circle class="u" cx="635.6" cy="1276.4" r="18.3"/><circle class="u" cx="759.3" cy="1227.0" r="18.3"/><circle class="u" cx="783.8" cy="1097.8" r="18.3"/><circle class="u" cx="737.4" cy="1134.9" r="18.3"/><circle class="u" cx="682.4" cy="1152.8" r="18.3"/><circle class="u" cx="690.4" cy="1167.3" r="18.3"/><circle class="u" cx="795.0" cy="1139.5" r="18.3"/><circle class="u" cx="784.4" cy="1150.1" r="18.3"/><circle class="u" cx="831.5" cy="1153.4" r="18.3"/><circle class="u" cx="882.5" cy="1140.8" r="18.3"/><circle class="u" cx="873.2" cy="1119.6" r="18.3"/><circle class="u" cx="880.5" cy="1166.7" r="18.3"/><circle class="u" cx="927.5" cy="1123.6" r="18.3"/><circle class="u" cx="939.5" cy="1150.1" r="18.3"/><circle class="u" cx="772.5" cy="1185.9" r="18.3"/><circle class="u" cx="799.0" cy="1179.3" r="18.3"/><circle class="u" cx="743.4" cy="1191.8" r="18.3"/><circle class="u" cx="818.2" cy="1193.2" r="18.3"/><circle class="u" cx="779.1" cy="1212.4" r="18.3"/><circle class="u" cx="742.0" cy="1205.8" r="18.3"/><circle class="u" cx="871.9" cy="1234.9" r="18.3"/><circle class="u" cx="869.9" cy="1218.3" r="18.3"/><circle class="u" cx="687.7" cy="1237.6" r="18.3"/><circle class="u" cx="724.8" cy="1232.3" r="18.3"/><circle class="u" cx="772.5" cy="1250.8" r="18.3"/><circle class="u" cx="740.0" cy="1245.5" r="18.3"/><circle class="u" cx="687.7" cy="1258.8" r="18.3"/><circle class="u" cx="724.8" cy="1259.9" r="18.3"/><circle class="u" cx="759.3" cy="1263.9" r="18.3"/>
</g>
<g id="panel-D">
<path class="ax" d="M1421.9 848.6V1510.5M1388.4 1476.5H2362.0M1388.4 1398.4H1421.9M1388.4 1320.3H1421.9M1388.4 1242.2H1421.9M1388.4 1164.2H1421.9M1388.4 1086.1H1421.9M1388.4 1008.0H1421.9M1388.4 929.9H1421.9M1388.4 851.8H1421.9M1515.6 1476.5V1495.5M1609.3 1476.5V1510.5M1703.0 1476.5V1495.5M1796.7 1476.5V1510.5M1890.4 1476.5V1495.5M1984.0 1476.5V1510.5M2077.7 1476.5V1495.5M2171.4 1476.5V1510.5M2265.1 1476.5V1495.5M2358.8 1476.5V1510.5"/>
<text class="t" text-anchor="end" x="1374.4" y="1504.5">0</text>
<text class="t" text-anchor="end" x="1374.4" y="1348.3">0.4</text>
<text class="t" text-anchor="end" x="1374.4" y="1192.2">0.8</text>
<text class="t" text-anchor="end" x="1374.4" y="1036.0">1.2</text>
<text class="t" text-anchor="end" x="1374.4" y="879.8">1.6</text>
<text class="t" text-anchor="middle" x="1420.4" y="1600.5">40</text>
<text class="t" text-anchor="middle" x="1607.8" y="1600.5">50</text>
<text class="t" text-anchor="middle" x="1795.2" y="1600.5">60</text>
<text class="t" text-anchor="middle" x="1982.5" y="1600.5">70</text>
<text class="t" text-anchor="middle" x="2169.9" y="1600.5">80</text>
<text class="t" text-anchor="middle" x="2357.3" y="1600.5">90</text>
<text class="b" x="1554.0" y="1714.8" style="font-size:70px">Mg/(Mg+Fe<tspan dy="-22" style="font-size:42.5px;font-weight:normal">TOT</tspan><tspan dy="22" dx="-2">)*100</tspan></text>
<text class="b" x="1482.5" y="895.0">MnO</text>
<circle class="y" cx="1641.5" cy="955.8" r="18.3"/><circle class="y" cx="1686.9" cy="971.0" r="18.3"/><circle class="y" cx="1662.0" cy="1006.1" r="18.3"/><circle class="y" cx="1682.6" cy="1010.1" r="18.3"/><circle class="y" cx="1660.7" cy="1020.7" r="18.3"/><circle class="y" cx="1723.0" cy="1059.1" r="18.3"/><circle class="y" cx="1744.8" cy="1036.6" r="18.3"/><circle class="y" cx="1699.1" cy="1033.3" r="18.3"/><circle class="y" cx="1639.5" cy="1067.1" r="18.3"/><circle class="y" cx="1656.1" cy="1047.9" r="18.3"/><circle class="y" cx="1605.3" cy="1077.0" r="18.3"/><circle class="y" cx="1762.7" cy="1087.0" r="18.3"/><circle class="y" cx="1739.5" cy="1073.7" r="18.3"/><circle class="y" cx="1668.0" cy="1085.6" r="18.3"/><circle class="y" cx="1705.8" cy="1096.2" r="18.3"/><circle class="y" cx="1711.1" cy="1108.2" r="18.3"/><circle class="y" cx="1732.3" cy="1105.5" r="18.3"/><circle class="y" cx="1687.2" cy="1066.4" r="18.3"/><circle class="y" cx="1724.3" cy="1153.0" r="18.3"/><circle class="y" cx="1636.9" cy="1122.5" r="18.3"/><circle class="y" cx="1624.9" cy="1121.2" r="18.3"/><circle class="y" cx="1607.7" cy="1114.6" r="18.3"/><circle class="y" cx="1666.0" cy="1106.6" r="18.3"/><circle class="y" cx="1707.1" cy="1135.8" r="18.3"/><circle class="y" cx="1695.2" cy="1121.2" r="18.3"/><circle class="y" cx="1777.3" cy="1121.2" r="18.3"/><circle class="y" cx="1748.2" cy="1142.4" r="18.3"/><circle class="y" cx="1749.5" cy="1153.0" r="18.3"/><circle class="y" cx="1772.0" cy="1143.7" r="18.3"/><circle class="y" cx="1777.3" cy="1153.0" r="18.3"/><circle class="y" cx="1778.6" cy="1157.0" r="18.3"/><circle class="y" cx="1797.2" cy="1155.7" r="18.3"/><circle class="y" cx="1651.4" cy="1162.9" r="18.3"/><circle class="y" cx="1638.2" cy="1168.9" r="18.3"/><circle class="y" cx="1729.6" cy="1184.8" r="18.3"/><circle class="y" cx="1754.8" cy="1190.1" r="18.3"/><circle class="y" cx="1778.6" cy="1182.2" r="18.3"/><circle class="y" cx="1803.8" cy="1182.2" r="18.3"/><circle class="y" cx="1833.0" cy="1195.4" r="18.3"/><circle class="y" cx="1839.6" cy="1184.8" r="18.3"/><circle class="y" cx="1826.3" cy="1170.2" r="18.3"/><circle class="y" cx="1703.1" cy="1171.6" r="18.3"/><circle class="y" cx="1750.1" cy="1167.6" r="18.3"/><circle class="y" cx="1691.2" cy="1227.9" r="18.3"/><circle class="y" cx="1718.3" cy="1208.0" r="18.3"/><circle class="y" cx="1777.3" cy="1223.2" r="18.3"/><circle class="y" cx="1785.3" cy="1227.2" r="18.3"/><circle class="y" cx="1819.7" cy="1233.8" r="18.3"/><circle class="y" cx="1798.5" cy="1237.8" r="18.3"/><circle class="y" cx="1811.8" cy="1245.8" r="18.3"/><circle class="y" cx="1793.2" cy="1217.3" r="18.3"/><circle class="y" cx="1772.0" cy="1259.0" r="18.3"/><circle class="y" cx="1835.6" cy="1272.3" r="18.3"/><circle class="y" cx="1774.7" cy="1294.8" r="18.3"/><circle class="y" cx="1782.6" cy="1285.5" r="18.3"/><circle class="y" cx="1780.0" cy="1281.5" r="18.3"/><circle class="y" cx="1844.9" cy="1290.8" r="18.3"/><circle class="y" cx="1817.1" cy="1277.6" r="18.3"/><circle class="y" cx="1912.2" cy="1158.3" r="18.3"/><circle class="y" cx="1865.2" cy="1217.3" r="18.3"/><circle class="y" cx="1890.4" cy="1237.8" r="18.3"/><circle class="y" cx="1871.8" cy="1245.8" r="18.3"/><circle class="y" cx="1865.2" cy="1259.0" r="18.3"/><circle class="y" cx="1895.7" cy="1259.0" r="18.3"/><circle class="y" cx="1840.0" cy="1272.3" r="18.3"/><circle class="y" cx="1874.5" cy="1285.5" r="18.3"/><circle class="y" cx="1911.6" cy="1277.6" r="18.3"/><circle class="y" cx="1914.2" cy="1285.5" r="18.3"/><circle class="y" cx="1927.5" cy="1255.0" r="18.3"/><circle class="y" cx="1842.7" cy="1289.3" r="18.3"/><circle class="y" cx="1912.2" cy="1331.7" r="18.3"/><circle class="y" cx="1908.9" cy="1311.8" r="18.3"/><circle class="y" cx="1948.7" cy="1303.9" r="18.3"/><circle class="y" cx="1936.7" cy="1325.1" r="18.3"/><circle class="y" cx="1950.0" cy="1342.3" r="18.3"/><circle class="y" cx="1952.0" cy="1361.9" r="18.3"/><circle class="y" cx="1977.8" cy="1354.2" r="18.3"/><circle class="y" cx="1981.8" cy="1341.0" r="18.3"/><circle class="y" cx="1999.0" cy="1364.8" r="18.3"/><circle class="y" cx="2020.2" cy="1356.2" r="18.3"/><circle class="y" cx="2052.0" cy="1351.6" r="18.3"/><circle class="y" cx="2067.9" cy="1364.8" r="18.3"/><circle class="y" cx="2066.6" cy="1370.1" r="18.3"/><circle class="y" cx="2118.3" cy="1370.1" r="18.3"/><circle class="y" cx="2131.5" cy="1372.8" r="18.3"/><circle class="y" cx="2113.0" cy="1380.7" r="18.3"/><circle class="y" cx="2127.5" cy="1388.7" r="18.3"/><circle class="y" cx="1985.8" cy="1313.1" r="18.3"/><circle class="y" cx="1956.6" cy="1323.7" r="18.3"/><circle class="y" cx="2215.4" cy="1350.2" r="18.3"/><circle class="y" cx="2220.7" cy="1358.2" r="18.3"/><circle class="y" cx="2200.8" cy="1395.3" r="18.3"/><circle class="y" cx="2204.8" cy="1392.6" r="18.3"/><circle class="y" cx="2223.4" cy="1391.3" r="18.3"/><circle class="y" cx="1774.7" cy="1306.5" r="18.3"/><circle class="y" cx="1777.3" cy="1314.5" r="18.3"/><circle class="y" cx="1783.9" cy="1321.1" r="18.3"/><circle class="y" cx="1793.2" cy="1306.5" r="18.3"/><circle class="y" cx="1815.7" cy="1301.2" r="18.3"/><circle class="y" cx="1789.9" cy="1332.3" r="18.3"/><circle class="u" cx="1762.1" cy="977.6" r="18.3"/><circle class="u" cx="1839.6" cy="1078.3" r="18.3"/><circle class="u" cx="1843.6" cy="1085.6" r="18.3"/><circle class="u" cx="1861.9" cy="1026.0" r="18.3"/><circle class="u" cx="1897.0" cy="1039.3" r="18.3"/><circle class="u" cx="1979.8" cy="1053.8" r="18.3"/><circle class="u" cx="1966.5" cy="1051.2" r="18.3"/><circle class="u" cx="1890.4" cy="1075.0" r="18.3"/><circle class="u" cx="1857.2" cy="1089.6" r="18.3"/><circle class="u" cx="1897.6" cy="1097.6" r="18.3"/><circle class="u" cx="1935.7" cy="1086.7" r="18.3"/><circle class="u" cx="1836.9" cy="1118.6" r="18.3"/><circle class="u" cx="1851.5" cy="1114.6" r="18.3"/><circle class="u" cx="1823.7" cy="1155.7" r="18.3"/><circle class="u" cx="1838.3" cy="1142.4" r="18.3"/><circle class="u" cx="1972.5" cy="1235.2" r="18.3"/><circle class="u" cx="1942.0" cy="1253.7" r="18.3"/><circle class="u" cx="1897.0" cy="1111.3" r="18.3"/><circle class="u" cx="1948.7" cy="1141.1" r="18.3"/><circle class="u" cx="1983.8" cy="1137.8" r="18.3"/><circle class="u" cx="1883.7" cy="1169.6" r="18.3"/><circle class="u" cx="1969.9" cy="1192.8" r="18.3"/><circle class="u" cx="1948.0" cy="1180.8" r="18.3"/><circle class="u" cx="1932.8" cy="1231.2" r="18.3"/><circle class="u" cx="1951.3" cy="1243.1" r="18.3"/><circle class="u" cx="1991.1" cy="1237.8" r="18.3"/><circle class="u" cx="2003.0" cy="1252.4" r="18.3"/><circle class="u" cx="1947.3" cy="1219.9" r="18.3"/><circle class="u" cx="1987.1" cy="1214.6" r="18.3"/><circle class="u" cx="1944.7" cy="1269.6" r="18.3"/><circle class="u" cx="1985.8" cy="1272.3" r="18.3"/><circle class="u" cx="1976.5" cy="1281.5" r="18.3"/><circle class="u" cx="2017.6" cy="1285.5" r="18.3"/><circle class="u" cx="2038.1" cy="1264.3" r="18.3"/><circle class="u" cx="2078.5" cy="1233.8" r="18.3"/><circle class="u" cx="2079.2" cy="1225.9" r="18.3"/><circle class="u" cx="2079.6" cy="1267.0" r="18.3"/><circle class="u" cx="1985.8" cy="1297.2" r="18.3"/><circle class="u" cx="2012.3" cy="1303.9" r="18.3"/><circle class="u" cx="2012.3" cy="1325.1" r="18.3"/><circle class="u" cx="2026.2" cy="1323.7" r="18.3"/><circle class="u" cx="2067.9" cy="1311.1" r="18.3"/><circle class="u" cx="2098.4" cy="1310.5" r="18.3"/><circle class="u" cx="2065.3" cy="1335.7" r="18.3"/><circle class="u" cx="2089.1" cy="1348.9" r="18.3"/><circle class="u" cx="2113.0" cy="1343.6" r="18.3"/><circle class="u" cx="2081.2" cy="1335.0" r="18.3"/><circle class="u" cx="2137.2" cy="1329.0" r="18.3"/><circle class="u" cx="2178.3" cy="1321.1" r="18.3"/><circle class="u" cx="2178.3" cy="1330.4" r="18.3"/><circle class="u" cx="2149.2" cy="1343.6" r="18.3"/><circle class="u" cx="2163.7" cy="1351.6" r="18.3"/><circle class="u" cx="2143.9" cy="1362.2" r="18.3"/><circle class="u" cx="2163.7" cy="1364.8" r="18.3"/><circle class="u" cx="2187.6" cy="1343.6" r="18.3"/><circle class="u" cx="2198.2" cy="1380.7" r="18.3"/><circle class="u" cx="2236.6" cy="1367.5" r="18.3"/><circle class="u" cx="2247.2" cy="1375.4" r="18.3"/><circle class="u" cx="2269.7" cy="1375.4" r="18.3"/><circle class="u" cx="2268.4" cy="1386.0" r="18.3"/><circle class="u" cx="2251.2" cy="1395.3" r="18.3"/><circle class="u" cx="2292.3" cy="1386.0" r="18.3"/><circle class="u" cx="2290.9" cy="1399.3" r="18.3"/><circle class="u" cx="2289.6" cy="1409.9" r="18.3"/><circle class="u" cx="2309.5" cy="1394.0" r="18.3"/><circle class="u" cx="2325.4" cy="1399.9" r="18.3"/><circle class="u" cx="2211.4" cy="1374.7" r="18.3"/>
</g>
</svg></body></html>
